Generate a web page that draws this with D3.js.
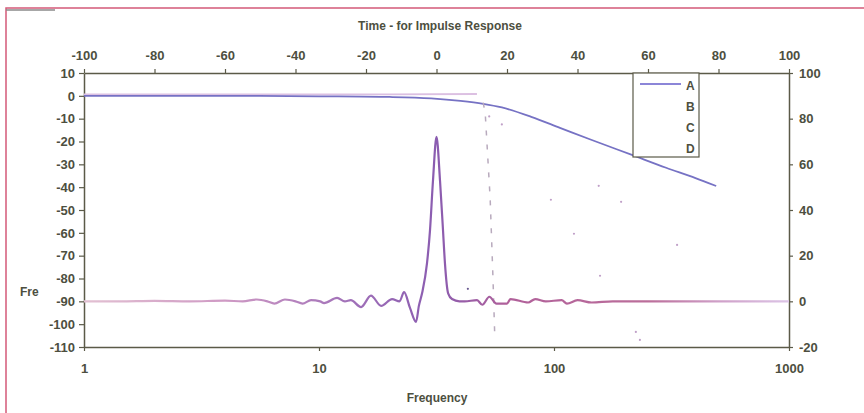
<!DOCTYPE html>
<html><head><meta charset="utf-8">
<script src="https://cdn.jsdelivr.net/npm/d3@7"></script>
<style>
body{margin:0;background:#fff;}
svg{display:block;}
text{font-family:"Liberation Sans",Arial,sans-serif;font-weight:bold;fill:#4d4f3f;}
</style></head>
<body>
<svg id="c" width="864" height="413"></svg>
<script>
// ---- data ----
const freqTicks = [1, 10, 100, 1000];
const dbTicks = [10, 0, -10, -20, -30, -40, -50, -60, -70, -80, -90, -100, -110];
const timeTicks = [-100, -80, -60, -40, -20, 0, 20, 40, 60, 80, 100];
const impTicks = [100, 80, 60, 40, 20, 0, -20];
const seriesNames = ["A", "B", "C", "D"];

// A: frequency response (Hz, dB)
const aFreq = [1, 5, 10, 20, 30, 40, 50, 60, 80, 106, 142, 216, 300, 400, 490];
const aDb   = [0, 0, -0.2, -0.5, -1.1, -2.2, -3.5, -5.1, -9.2, -14, -19, -26, -31.5, -36, -39.5];

// B: impulse response (time, value on right axis)
const bTime = [-100, -90, -80, -70, -60, -55, -51, -48, -46, -43, -40, -38, -35.6, -33, -31.9, -28.2, -26, -24.3, -21.4, -18.6, -15.7, -12.6, -10.5, -9.2, -7.5, -5.8, -5, -4.1, -2.7, -1.85, -1, 0, 1, 1.85, 2.4, 3.3, 4.4, 6.5, 8, 11.5, 13, 15, 17, 20, 21, 26, 28, 31, 35.5, 37, 40, 44, 50, 55, 60, 70, 100];
const bVal  = [0, 0, 0.2, 0, 0.3, 0, 0.8, 0, -1, 0.8, 0, -1, 0.5, 0, -0.8, 1.5, 0, 0.5, -2.5, 2.5, -2, 1, 0, 4, -3, -9, -2, 3.5, 16.6, 31, 52.8, 72, 52.8, 31, 16.6, 3.5, 1, 0, 0, 0.5, -1.5, 2, -1, -1, 1, -0.5, 1, 0, 0.5, -1, 0.5, -0.5, 0, 0, 0, 0, 0];

// C: ideal passband (Hz, dB)
const cFreq = [1, 20, 47];
const cDb   = [0.6, 0.6, 0.8];

// D: ideal stop edge (Hz, dB)
const dFreq = [50, 51, 52, 53.5, 55, 56];
const dDb   = [-3, -8, -23, -45, -80, -106];

// faint specks (Hz, dB)
const speckFreq = [43, 97, 121.6, 155, 193, 334, 157, 223, 232, 53, 60];
const speckDb   = [-84.5, -45.5, -60.4, -39.4, -46.4, -65.3, -78.8, -103.4, -106.9, -9, -12.5];

// ---- layout ----
const svg = d3.select("#c");
const L = 84, R = 789, T = 73, B = 347;
const x  = d3.scaleLog().domain([1, 1000]).range([L, R]);
const xt = d3.scaleLinear().domain([-100, 100]).range([L, R]);
const yL = d3.scaleLinear().domain([-110, 10]).range([B, T]);
const yR = d3.scaleLinear().domain([-20, 100]).range([B, T]);

// frame
svg.append("rect").attr("x", 6).attr("y", 8).attr("width", 900).attr("height", 500)
  .attr("fill", "none").attr("stroke", "#d45a78").attr("stroke-width", 1.5);
svg.append("line").attr("x1", 6).attr("x2", 55).attr("y1", 10).attr("y2", 10)
  .attr("stroke", "#8a8a8a").attr("stroke-width", 1.5);

const axisCol = "#5b5a48";
function style(g) {
  g.select(".domain").attr("stroke", axisCol).attr("stroke-width", 1.5);
  g.selectAll(".tick line").attr("stroke", axisCol).attr("stroke-width", 1.2);
  g.selectAll("text").attr("font-size", 13).attr("fill", "#4d4f3f")
    .attr("font-family", "'Liberation Sans',Arial,sans-serif").attr("font-weight", "bold");
}
const fmt = d => (d < 0 ? "-" + Math.abs(d) : "" + d);

svg.append("g").attr("transform", `translate(0,${B})`)
  .call(d3.axisBottom(x).tickValues(freqTicks).tickFormat(d => "" + d).tickSize(4).tickPadding(13).tickSizeOuter(0))
  .call(style);
svg.append("g").attr("transform", `translate(${L},0)`)
  .call(d3.axisLeft(yL).tickValues(dbTicks).tickFormat(fmt).tickSize(5).tickPadding(4).tickSizeOuter(0))
  .call(style);
svg.append("g").attr("transform", `translate(0,${T})`)
  .call(d3.axisTop(xt).tickValues(timeTicks).tickFormat(fmt).tickSize(4).tickPadding(9).tickSizeOuter(0))
  .call(style);
svg.append("g").attr("transform", `translate(${R},0)`)
  .call(d3.axisRight(yR).tickValues(impTicks).tickFormat(fmt).tickSize(4).tickPadding(6).tickSizeOuter(0))
  .call(style);

// gradient for impulse line
const grad = svg.append("defs").append("linearGradient").attr("id", "bg")
  .attr("gradientUnits", "userSpaceOnUse").attr("x1", L).attr("x2", R).attr("y1", 0).attr("y2", 0);
[[0, "#e2c0d2"], [0.2, "#cf9ac4"], [0.38, "#a070b8"], [0.5, "#8a5cb0"], [0.6, "#b0609a"], [0.8, "#bb6e9a"], [0.9, "#cfa0c8"], [1, "#dcc4e6"]]
  .forEach(s => grad.append("stop").attr("offset", s[0]).attr("stop-color", s[1]));

// C
svg.append("path").datum(cFreq.map((f, i) => [f, cDb[i]]))
  .attr("d", d3.line().x(d => x(d[0])).y(d => yL(d[1])))
  .attr("fill", "none").attr("stroke", "#dcc0e2").attr("stroke-width", 1.8);

// A
svg.append("path").datum(aFreq.map((f, i) => [f, aDb[i]]))
  .attr("d", d3.line().x(d => x(d[0])).y(d => yL(d[1])).curve(d3.curveMonotoneX))
  .attr("fill", "none").attr("stroke", "#7672c4").attr("stroke-width", 1.8);

// D
svg.append("path").datum(dFreq.map((f, i) => [f, dDb[i]]))
  .attr("d", d3.line().x(d => x(d[0])).y(d => yL(d[1])))
  .attr("fill", "none").attr("stroke", "#b8aabd").attr("stroke-width", 1.5).attr("stroke-dasharray", "5,9");

// B
svg.append("path").datum(bTime.map((t, i) => [t, bVal[i]]))
  .attr("d", d3.line().x(d => xt(d[0])).y(d => yR(d[1])).curve(d3.curveMonotoneX))
  .attr("fill", "none").attr("stroke", "url(#bg)").attr("stroke-width", 2.2);

// specks
svg.append("g").selectAll("circle").data(speckFreq.map((f, i) => [f, speckDb[i]])).join("circle")
  .attr("cx", d => x(d[0])).attr("cy", d => yL(d[1])).attr("r", 1.1)
  .attr("fill", (d, i) => i === 0 ? "#6a5a90" : "#c0a0c8");

// legend
const lg = svg.append("g");
lg.append("rect").attr("x", 633).attr("y", T).attr("width", 66).attr("height", 84)
  .attr("fill", "#fff").attr("stroke", axisCol).attr("stroke-width", 1.2);
lg.append("line").attr("x1", 640).attr("x2", 681).attr("y1", 84).attr("y2", 84)
  .attr("stroke", "#8c86d8").attr("stroke-width", 2);
seriesNames.forEach((n, i) => {
  lg.append("text").attr("x", 686).attr("y", 90 + i * 21).attr("font-size", 12).text(n);
});

// titles
svg.append("text").attr("x", 440).attr("y", 30).attr("text-anchor", "middle").attr("font-size", 12)
  .text("Time - for Impulse Response");
svg.append("text").attr("x", 437).attr("y", 402).attr("text-anchor", "middle").attr("font-size", 12)
  .text("Frequency");
svg.append("text").attr("x", 20).attr("y", 296).attr("font-size", 12).text("Fre");
</script>
</body></html>
